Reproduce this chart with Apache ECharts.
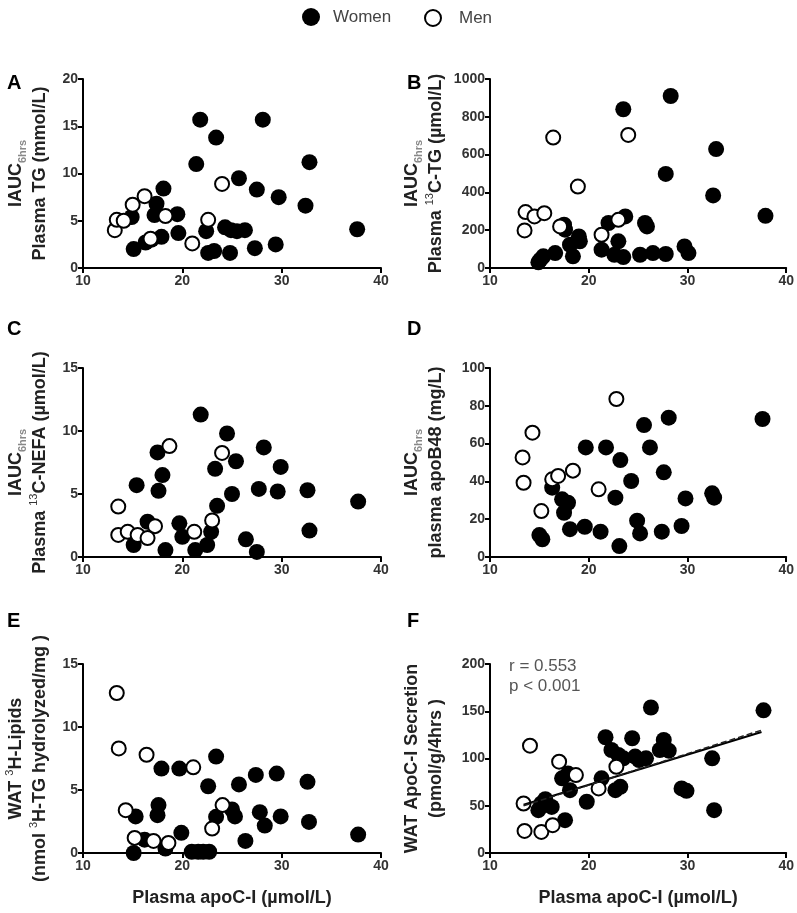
<!DOCTYPE html>
<html><head><meta charset="utf-8">
<script src="https://cdn.jsdelivr.net/npm/echarts@6/dist/echarts.min.js"></script>
<style>html,body{margin:0;padding:0;background:#fff}#c{width:797px;height:913px}</style>
</head><body><div id="c"></div>
<script>
const xMin = 10, xMax = 40, xInterval = 10;
const panelLetters = ['A','B','C','D','E','F'];
const yMaxes = [20, 1000, 15, 100, 15, 200];
const yIntervals = [5, 200, 5, 20, 5, 50];
const yNames = [
  '{t|IAUC}{sub|6hrs}\n{t|Plasma TG (mmol/L)}',
  '{t|IAUC}{sub|6hrs}\n{t|Plasma }{sup|13}{t|C-TG (µmol/L)}',
  '{t|IAUC}{sub|6hrs}\n{t|Plasma }{sup|13}{t|C-NEFA (µmol/L)}',
  '{t|IAUC}{sub|6hrs}\n{t|plasma apoB48 (mg/L)}',
  '{t|WAT }{sup|3}{t|H-Lipids}\n{t|(nmol }{sup|3}{t|H-TG hydrolyzed/mg )}',
  '{t|WAT ApoC-I Secretion}\n{t|(pmol/g/4hrs )}'
];
const xAxisTitle = 'Plasma apoC-I (µmol/L)';
const statsText = ['r = 0.553', 'p < 0.001'];

const panelA_women = [[21.8,15.7],[28.1,15.7],[23.4,13.8],[21.4,11.0],[32.8,11.2],[25.7,9.5],[18.1,8.4],[27.5,8.3],[29.7,7.5],[32.4,6.6],[17.4,6.8],[17.2,5.6],[19.5,5.7],[14.9,5.4],[22.4,3.9],[19.6,3.7],[24.3,4.3],[24.9,4.0],[25.5,3.9],[26.3,4.0],[37.6,4.1],[15.1,2.0],[16.3,2.7],[16.9,3.0],[17.9,3.3],[22.6,1.6],[23.2,1.8],[24.8,1.6],[27.3,2.1],[29.4,2.5]];
const panelA_men = [[13.2,4.0],[13.4,5.1],[14.1,5.0],[15.0,6.7],[16.2,7.6],[18.3,5.5],[22.6,5.1],[21.0,2.6],[24.0,8.9],[16.8,3.1]];

const panelB_women = [[28.3,910],[23.5,840],[32.9,629],[27.8,498],[32.6,384],[37.9,276],[17.5,229],[17.6,203],[22.0,238],[23.7,273],[25.7,238],[25.9,220],[19.0,167],[19.1,141],[18.1,123],[18.4,62],[23.0,141],[21.3,97],[22.6,70],[23.5,58],[25.2,70],[26.5,79],[27.8,74],[29.7,114],[30.1,79],[15.1,44],[15.4,62],[16.6,79],[14.9,30]];
const panelB_men = [[16.4,690],[24.0,704],[18.9,431],[13.6,296],[14.5,273],[15.5,290],[13.5,199],[17.1,220],[21.3,176],[23.0,255]];

const panelC_women = [[21.85,11.3],[24.5,9.8],[28.2,8.7],[17.5,8.3],[29.9,7.15],[25.4,7.6],[23.3,7.0],[18.0,6.5],[15.4,5.7],[17.6,5.25],[27.7,5.4],[29.6,5.2],[32.6,5.3],[25.0,5.0],[37.7,4.4],[23.5,4.06],[16.5,2.8],[19.7,2.67],[20.0,1.6],[15.1,0.95],[18.3,0.55],[21.3,0.55],[22.5,0.95],[22.9,2.0],[26.4,1.4],[27.5,0.4],[32.8,2.1]];
const panelC_men = [[13.55,4.0],[18.7,8.8],[24.0,8.26],[13.55,1.75],[14.5,2.0],[15.5,1.75],[16.5,1.5],[17.25,2.45],[21.2,2.0],[23.0,2.9]];

const panelD_women = [[28.1,73.7],[37.6,73.0],[25.6,69.8],[19.7,58.0],[21.75,58.0],[26.2,58.0],[23.2,51.3],[27.6,44.8],[24.3,40.2],[22.7,31.4],[29.8,31.0],[32.5,33.7],[32.7,31.4],[16.3,36.7],[17.3,30.5],[17.9,28.7],[17.5,23.4],[15.0,11.6],[15.3,9.4],[18.1,14.7],[19.6,16.0],[21.2,13.4],[23.1,5.8],[24.9,19.2],[25.2,12.5],[27.4,13.4],[29.4,16.4]];
const panelD_men = [[22.8,83.6],[14.3,65.8],[13.3,52.7],[13.4,39.3],[16.3,41.1],[16.9,42.9],[18.4,45.7],[21.0,35.8],[15.2,24.3]];

const panelE_women = [[23.4,7.65],[17.9,6.7],[19.7,6.7],[22.6,5.3],[25.7,5.44],[27.4,6.2],[29.5,6.3],[32.6,5.65],[17.6,3.8],[17.5,3.0],[15.3,2.9],[23.4,2.87],[25.0,3.45],[25.3,2.9],[27.8,3.24],[28.3,2.18],[29.9,2.9],[32.75,2.47],[37.7,1.46],[19.9,1.6],[16.2,1.06],[26.35,0.96],[18.3,0.35],[15.1,0.0],[20.95,0.1],[21.6,0.1],[22.1,0.1],[22.7,0.1]];
const panelE_men = [[13.4,12.7],[13.6,8.3],[16.4,7.8],[21.1,6.8],[14.3,3.4],[24.05,3.8],[23.0,1.94],[15.2,1.2],[17.1,0.96],[18.6,0.8]];

const panelF_women = [[26.3,154],[37.7,151],[21.7,122.5],[24.4,121.4],[27.6,119.6],[22.3,109],[23.0,103.7],[23.5,100.2],[24.7,102],[25.1,98.4],[25.8,100.2],[27.2,109],[28.1,108.3],[32.5,100.2],[21.3,79],[17.3,79],[17.9,84],[18.1,66.5],[19.8,54.2],[22.7,66.5],[23.2,70],[29.4,68.3],[29.9,65.8],[32.7,45.3],[15.2,52.4],[14.9,45.3],[16.25,48.8],[17.6,34.7],[15.6,57]];
const panelF_men = [[14.05,113.6],[17.0,96.6],[18.7,82.5],[22.8,91.3],[21.0,68.3],[13.4,52.4],[13.5,23.4],[15.2,22.3],[16.35,29.4]];
const panelF_fitSolid = [[13.4,51],[37.5,128]];
const panelF_fitDashed = [[13.4,50],[37.5,130]];

const womenData = [panelA_women, panelB_women, panelC_women, panelD_women, panelE_women, panelF_women];
const menData = [panelA_men, panelB_men, panelC_men, panelD_men, panelE_men, panelF_men];

const FONT = '"Liberation Sans", Arial, Helvetica, sans-serif';
const gridBoxes = [
  {left:83, top:79, width:298, height:189},
  {left:490, top:79, width:297, height:189},
  {left:83, top:368, width:298, height:189},
  {left:490, top:368, width:297, height:189},
  {left:83, top:664, width:298, height:189},
  {left:490, top:664, width:297, height:189}
];
const letterPos = [[7,84],[407,84],[7,330],[407,330],[7,622],[407,622]];

const axisLineStyle = {show:true, lineStyle:{color:'#000', width:2}};
const axisTickStyle = {show:true, length:5, inside:false, lineStyle:{color:'#000', width:2}};
const tickLabel = {fontSize:14, fontWeight:'bold', color:'#333', fontFamily:FONT, formatter: v => String(v)};

const nameRich = {
  t:{fontSize:18, fontWeight:'bold', color:'#222', fontFamily:FONT, lineHeight:24},
  sub:{fontSize:11, color:'#888', fontFamily:FONT, lineHeight:10, verticalAlign:'bottom'},
  sup:{fontSize:11, fontWeight:'normal', color:'#333', fontFamily:FONT, lineHeight:12, verticalAlign:'top'}
};

const grid = [], xAxis = [], yAxis = [], series = [], graphic = [];
for (let i = 0; i < 6; i++) {
  grid.push(gridBoxes[i]);
  const hasXName = i >= 4;
  xAxis.push({
    type:'value', gridIndex:i, min:xMin, max:xMax, interval:xInterval,
    axisLine:axisLineStyle, axisTick:axisTickStyle, splitLine:{show:false},
    axisLabel:Object.assign({margin:6}, tickLabel),
    name: hasXName ? xAxisTitle : '', nameLocation:'middle', nameGap:36,
    nameTextStyle:{fontSize:18, fontWeight:'bold', color:'#222', fontFamily:FONT}
  });
  yAxis.push({
    type:'value', gridIndex:i, min:0, max:yMaxes[i], interval:yIntervals[i],
    axisLine:axisLineStyle, axisTick:axisTickStyle, splitLine:{show:false},
    axisLabel:Object.assign({margin:5}, tickLabel),
    name: yNames[i], nameLocation:'middle', nameRotate:90,
    nameGap: (i % 2 === 0) ? 31 : 42,
    nameTextStyle:{rich:nameRich, fontSize:18, fontWeight:'bold', color:'#222', fontFamily:FONT, lineHeight:24}
  });
  series.push({
    type:'scatter', name:'Women', xAxisIndex:i, yAxisIndex:i, data:womenData[i],
    symbol:'circle', symbolSize:16, itemStyle:{color:'#000', opacity:1}, z:2
  });
  series.push({
    type:'scatter', name:'Men', xAxisIndex:i, yAxisIndex:i, data:menData[i],
    symbol:'circle', symbolSize:14, itemStyle:{color:'#fff', borderColor:'#000', borderWidth:2, opacity:1}, z:3
  });
  graphic.push({
    type:'text', left:letterPos[i][0], top:letterPos[i][1]-11,
    style:{text:panelLetters[i], font:'bold 20px ' + FONT, fill:'#000'}
  });
}
series.push({
  type:'line', name:'fit', xAxisIndex:5, yAxisIndex:5, data:panelF_fitSolid,
  showSymbol:false, symbol:'none', lineStyle:{color:'#000', width:2}, z:4, silent:true
});
series.push({
  type:'line', name:'fit2', xAxisIndex:5, yAxisIndex:5, data:panelF_fitDashed,
  showSymbol:false, symbol:'none', lineStyle:{color:'#222', width:1.5, type:'dashed'}, z:4, silent:true
});
graphic.push({
  type:'text', left:509, top:656,
  style:{text:statsText.join('\n'), font:'17px ' + FONT, fill:'#555', lineHeight:20}
});

const chart = echarts.init(document.getElementById('c'), null, {renderer:'canvas'});
chart.setOption({
  animation:false,
  backgroundColor:'#fff',
  legend:[
    {data:['Women'], left:297, top:3, itemWidth:30, itemHeight:18, icon:'circle',
     textStyle:{fontSize:17, color:'#444', fontFamily:FONT, padding:[0,0,0,2]}, selectedMode:false},
    {data:['Men'], left:419, top:4, itemWidth:30, itemHeight:16, icon:'circle',
     itemStyle:{color:'#fff', borderColor:'#000', borderWidth:2},
     textStyle:{fontSize:17, color:'#444', fontFamily:FONT, padding:[0,0,0,6]}, selectedMode:false}
  ],
  grid, xAxis, yAxis, series, graphic
});
</script></body></html>
